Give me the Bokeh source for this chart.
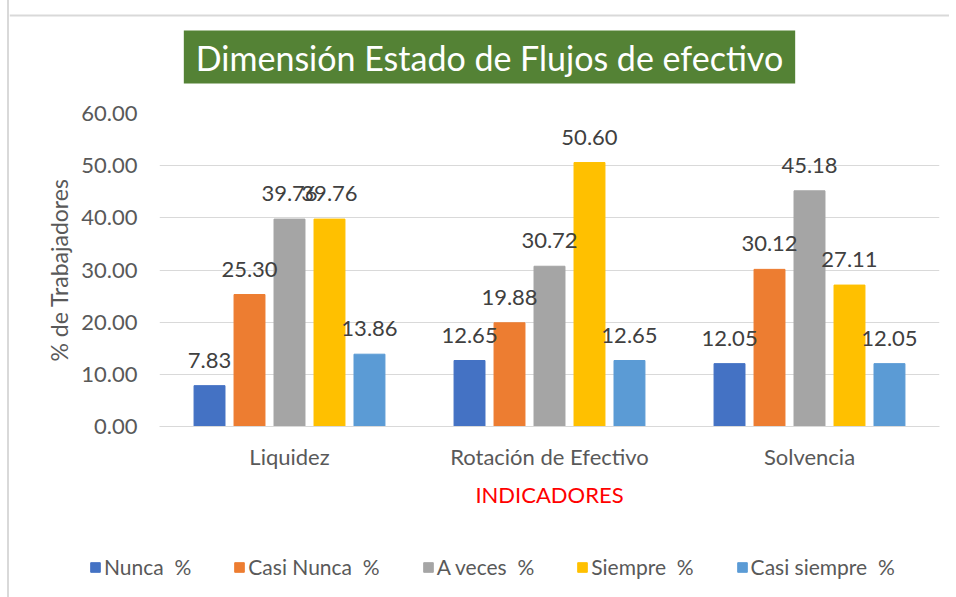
from bokeh.plotting import figure
from bokeh.models import (FactorRange, Range1d, ColumnDataSource, Legend, LegendItem,
                          Label, LabelSet, FixedTicker, NumeralTickFormatter)
from bokeh.layouts import column
from bokeh.transform import dodge
from bokeh.core.properties import value
from bokeh.embed import file_html
from bokeh.resources import INLINE

categories = ["Liquidez", "Rotación de Efectivo", "Solvencia"]
series = ["Nunca \u00a0%", "Casi Nunca \u00a0%", "A veces \u00a0%", "Siempre \u00a0%", "Casi siempre \u00a0%"]
nunca = [7.83, 12.65, 12.05]
casi_nunca = [25.30, 19.88, 30.12]
a_veces = [39.76, 30.72, 45.18]
siempre = [39.76, 50.60, 27.11]
casi_siempre = [13.86, 12.65, 12.05]
y_ticks = [0, 10, 20, 30, 40, 50, 60]
colors = ["#4472C4", "#ED7D31", "#A5A5A5", "#FFC000", "#5B9BD5"]

FONT = "Lato"
W = 940
keys = ["nunca", "casi_nunca", "a_veces", "siempre", "casi_siempre"]
data = dict(cat=categories, nunca=nunca, casi_nunca=casi_nunca, a_veces=a_veces,
            siempre=siempre, casi_siempre=casi_siempre)
for k in keys:
    data[k + "_lbl"] = ["%.2f" % v for v in data[k]]
src = ColumnDataSource(data)


def bare(h):
    f = figure(width=W, height=h, x_range=Range1d(0, W), y_range=Range1d(0, h),
               output_backend="svg", toolbar_location=None,
               x_axis_location=None, y_axis_location=None, frame_align=False,
               min_border=0, min_border_left=0, min_border_right=0,
               min_border_top=0, min_border_bottom=0)
    f.grid.visible = False
    f.outline_line_color = None
    return f


# ---- title strip ----
TH = 91
ft = bare(TH)
ft.line(x=[0, W], y=[TH - 15, TH - 15], line_color="#d9d9d9", line_width=2)
ft.add_layout(Label(x=480, y=TH - 56.5, text="Dimensión Estado de Flujos de efectivo",
                    text_align="center", text_baseline="middle", text_font=FONT,
                    text_font_size="34px", text_color="white",
                    background_fill_color="#548235",
                    padding=dict(left=12, right=12, top=6, bottom=6)))

# ---- main chart ----
p = figure(width=W, height=425, x_range=FactorRange(*categories), y_range=Range1d(0, 60),
           output_backend="svg", toolbar_location=None, frame_align=False,
           min_border_left=150, min_border_right=10, min_border_top=22, min_border_bottom=90)
p.outline_line_color = None
p.xgrid.grid_line_color = None
p.ygrid.grid_line_color = "#d9d9d9"
p.ygrid.grid_line_width = 1

p.yaxis.ticker = FixedTicker(ticks=y_ticks)
p.yaxis.formatter = NumeralTickFormatter(format="0.00")
p.yaxis.axis_line_color = None
p.yaxis.major_tick_line_color = None
p.yaxis.minor_tick_line_color = None
p.yaxis.major_tick_out = 0
p.yaxis.major_label_standoff = 22
p.yaxis.major_label_text_font = FONT
p.yaxis.major_label_text_font_size = "22px"
p.yaxis.major_label_text_color = "#595959"
p.yaxis.axis_label = "% de Trabajadores"
p.yaxis.axis_label_text_font = FONT
p.yaxis.axis_label_text_font_size = "23px"
p.yaxis.axis_label_text_font_style = "normal"
p.yaxis.axis_label_text_color = "#595959"
p.yaxis.axis_label_standoff = 5

p.xaxis.axis_line_color = "#d9d9d9"
p.xaxis.major_tick_line_color = None
p.xaxis.minor_tick_line_color = None
p.xaxis.major_tick_out = 0
p.xaxis.major_label_standoff = 16
p.xaxis.major_label_text_font = FONT
p.xaxis.major_label_text_font_size = "22px"
p.xaxis.major_label_text_color = "#595959"
p.xaxis.axis_label = "INDICADORES"
p.xaxis.axis_label_text_font = FONT
p.xaxis.axis_label_text_font_size = "22px"
p.xaxis.axis_label_text_font_style = "normal"
p.xaxis.axis_label_text_color = "#FF0000"
p.xaxis.axis_label_standoff = 8

step = 0.1538
bw = 0.119
for i, (k, c) in enumerate(zip(keys, colors)):
    off = (i - 2) * step
    p.vbar(x=dodge("cat", off, range=p.x_range), top=k, width=bw, source=src,
           fill_color=c, line_color=c)
    p.add_layout(LabelSet(x=dodge("cat", off, range=p.x_range), y=k, text=k + "_lbl",
                          source=src, text_align="center", text_baseline="bottom",
                          y_offset=18, text_font=value(FONT), text_font_size="22px",
                          text_color="#404040"))

# ---- legend strip ----
LH = 81
fl = bare(LH)
items = []
for name, c in zip(series, colors):
    # swatch-only renderer, placed outside the visible strip
    r = fl.vbar(x=[-100], top=[0], width=1, fill_color=c, line_color=c)
    items.append(LegendItem(label=name, renderers=[r]))
legend = Legend(items=items, orientation="horizontal", location=(80, 18),
                glyph_width=12, glyph_height=12, label_standoff=3, spacing=42,
                padding=0, margin=0, border_line_color=None, background_fill_alpha=0,
                label_text_font=FONT, label_text_font_size="21px", label_text_color="#595959")
fl.add_layout(legend, "center")

layout = column(ft, p, fl, spacing=0)
layout.styles = {"border-left": "2px solid #d9d9d9", "margin-left": "7px"}
open("out.html", "w").write(file_html(layout, INLINE))
